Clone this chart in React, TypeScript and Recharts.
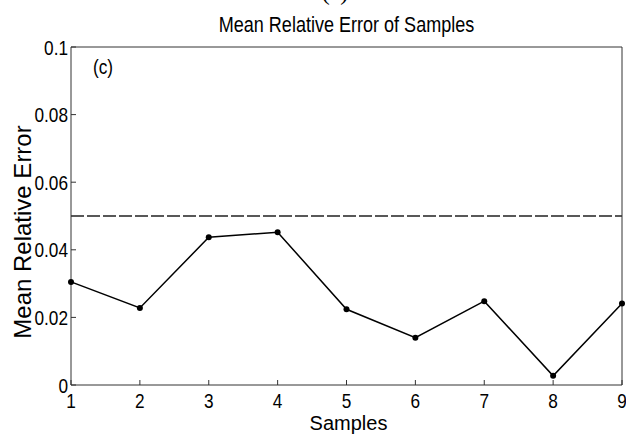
import { LineChart, Line, XAxis, YAxis, ReferenceLine } from "recharts";

const samples = [1, 2, 3, 4, 5, 6, 7, 8, 9];
const meanRelError = [0.0305, 0.0228, 0.0437, 0.0452, 0.0224, 0.014, 0.0248, 0.0027, 0.0241];
const yTicks = [0, 0.02, 0.04, 0.06, 0.08, 0.1];
const threshold = 0.05;

const chartData = samples.map((s, i) => ({ sample: s, err: meanRelError[i] }));

const font = "'Liberation Sans', Arial, sans-serif";
const axisColor = "#333";
const squeeze = 0.82; // the reference glyphs are narrow (squeezed sideways)

// horizontal text drawn narrower, like the reference
const NarrowText = ({ x, y, anchor = "middle", size = 21, children }: any) => (
  <text
    transform={`translate(${x}, ${y}) scale(${squeeze}, 1)`}
    textAnchor={anchor}
    fontFamily={font}
    fontSize={size}
    fill="#000"
  >
    {children}
  </text>
);

const fmtY = (v: number) => (v === 0 ? "0" : String(v));

const XTick = (p: any) => (
  <NarrowText x={p.x} y={p.y + 15}>
    {p.payload.value}
  </NarrowText>
);

const YTick = (p: any) => (
  <NarrowText x={p.x} y={p.y + 7.5} anchor="end">
    {fmtY(p.payload.value)}
  </NarrowText>
);

const YLabel = (props: any) => {
  const vb = props.viewBox;
  const cx = vb.x + 22;
  const cy = vb.y + vb.height / 2 + 16;
  return (
    <text
      x={cx}
      y={cy}
      transform={`rotate(-90, ${cx}, ${cy})`}
      textAnchor="middle"
      dominantBaseline="central"
      fontFamily={font}
      fontSize={24}
      fill="#000"
    >
      Mean Relative Error
    </text>
  );
};

const XLabel = (props: any) => {
  const vb = props.viewBox;
  return (
    <text x={vb.x + vb.width / 2 + 2} y={vb.y + 45} textAnchor="middle" fontFamily={font} fontSize={20} fill="#000">
      Samples
    </text>
  );
};

export default function App() {
  return (
    <div style={{ position: "absolute", left: 0, top: 0, width: 626, height: 434, background: "#fff", overflow: "hidden" }}>
      <svg width={626} height={434} style={{ position: "absolute", left: 0, top: 0, pointerEvents: "none" }}>
        <text x={335} y={0} textAnchor="middle" fontFamily="'Liberation Serif', serif" fontSize={24} fill="#000">
          (c)
        </text>
        <NarrowText x={346.5} y={32} size={22}>
          Mean Relative Error of Samples
        </NarrowText>
        <NarrowText x={93} y={74} anchor="start" size={21}>
          (c)
        </NarrowText>
      </svg>
      <LineChart
        width={626}
        height={434}
        data={chartData}
        margin={{ top: 46, right: 0, bottom: 0, left: 0 }}
        style={{ position: "absolute", left: 0, top: 0 }}
      >
        <XAxis
          dataKey="sample"
          type="number"
          domain={[1, 9]}
          ticks={samples}
          height={49}
          stroke={axisColor}
          tickSize={-5}
          tickMargin={13}
          tick={<XTick />}
          label={<XLabel />}
        />
        <XAxis
          xAxisId="top"
          orientation="top"
          dataKey="sample"
          type="number"
          domain={[1, 9]}
          ticks={samples}
          height={1}
          stroke={axisColor}
          tickSize={-5}
          tick={false}
        />
        <YAxis
          type="number"
          domain={[0, 0.1]}
          ticks={yTicks}
          width={71}
          stroke={axisColor}
          tickSize={-5}
          tickMargin={8}
          tick={<YTick />}
          label={<YLabel />}
        />
        <YAxis
          yAxisId="right"
          orientation="right"
          type="number"
          domain={[0, 0.1]}
          ticks={yTicks}
          width={4}
          stroke={axisColor}
          tickSize={-5}
          tick={false}
        />
        <ReferenceLine y={threshold} stroke="#222" strokeWidth={1.4} strokeDasharray="13 3" />
        <Line
          dataKey="err"
          stroke="#000"
          strokeWidth={1.5}
          dot={{ r: 3, fill: "#000", stroke: "#000", strokeWidth: 0 }}
          activeDot={false}
          isAnimationActive={false}
        />
        <Line
          xAxisId="top"
          yAxisId="right"
          dataKey="err"
          stroke="none"
          dot={false}
          activeDot={false}
          legendType="none"
          isAnimationActive={false}
        />
      </LineChart>
    </div>
  );
}
